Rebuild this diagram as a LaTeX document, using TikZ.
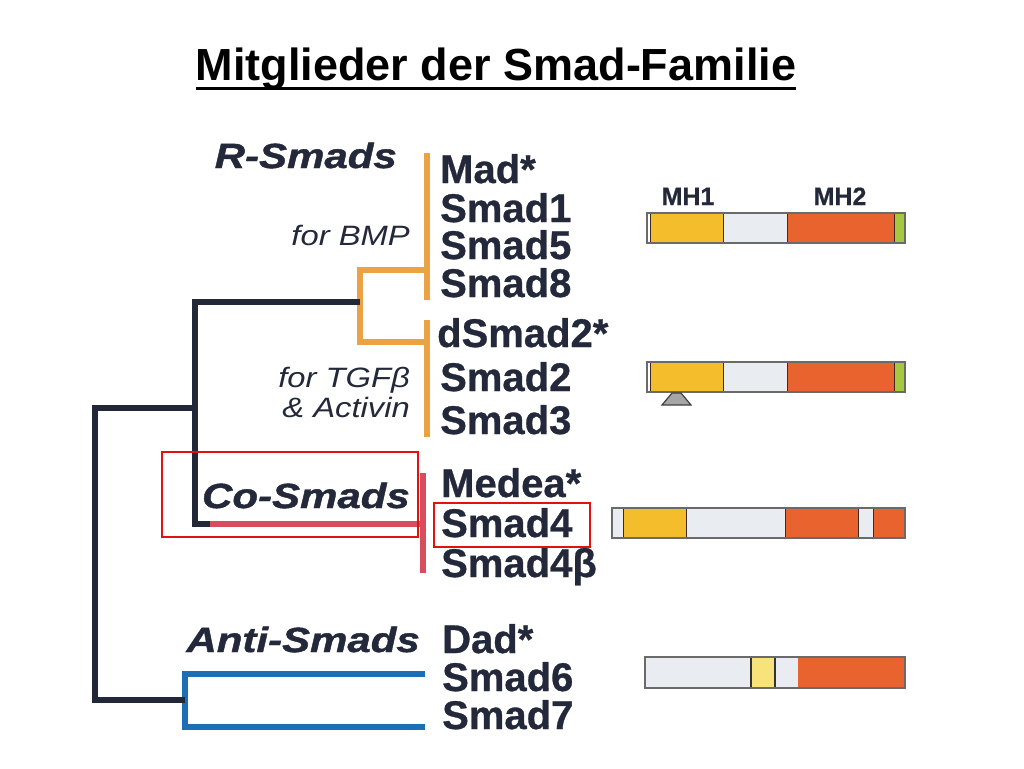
\documentclass[tikz,border=0pt]{standalone}
\usepackage{fontspec}
\setmainfont{Liberation Sans}
\newfontfamily\grpfont[FakeStretch=1.2, FakeBold=1.2]{Liberation Sans Bold Italic}
\newfontfamily\subfont[FakeStretch=1.17]{Liberation Sans Italic}
\newfontfamily\genefont[FakeBold=0.7]{Liberation Sans Bold}
\definecolor{navyc}{HTML}{222838}
\definecolor{txt}{HTML}{23283A}
\definecolor{orangeline}{HTML}{EBA244}
\definecolor{redline}{HTML}{D64D5E}
\definecolor{blueline}{HTML}{1D6FB5}
\definecolor{annot}{HTML}{E31010}
\definecolor{dyellow}{HTML}{F4BD2C}
\definecolor{dpale}{HTML}{F8E27A}
\definecolor{dgray}{HTML}{E9ECF1}
\definecolor{dorange}{HTML}{E8632E}
\definecolor{dgreen}{HTML}{A6C83C}
\definecolor{ddiv}{HTML}{3E2A20}
\definecolor{dborder}{HTML}{6A6A6A}
\begin{document}
\begin{tikzpicture}[x=1pt,y=-1pt,
  tree/.style={line width=6pt, line join=miter, line cap=butt},
  navytree/.style={tree, draw=navyc},
  orangetree/.style={tree, draw=orangeline},
  redtree/.style={tree, draw=redline},
  bluetree/.style={tree, draw=blueline},
  gene/.style={anchor=base west, inner sep=0pt, text=txt, font=\genefont\fontsize{40}{40}\selectfont},
  grp/.style={anchor=base east, inner sep=0pt, text=txt, font=\grpfont\fontsize{35}{35}\selectfont},
  sub/.style={anchor=base east, inner sep=0pt, text=txt, font=\subfont\fontsize{28}{28}\selectfont},
  dom/.style={anchor=base, inner sep=0pt, text=txt, font=\genefont\fontsize{25}{25}\selectfont},
  seg/.style={draw=ddiv, line width=1pt},
  barframe/.style={draw=dborder, line width=1.5pt},
  annotbox/.style={draw=annot, line width=2.5pt}
]
\useasboundingbox (0,0) rectangle (1024,768);

% title
\node[anchor=base, inner sep=0pt, font=\fontsize{45}{45}\selectfont\bfseries] (title) at (496,80) {Mitglieder der Smad-Familie};
\draw[line width=3pt] ([yshift=-8pt]title.base west) -- ([yshift=-8pt]title.base east);

% group labels
\node[grp] (rs) at (397,168) {R-Smads};
\node[sub] (bmp) at (410,245) {for BMP};
\node[sub] (tgf) at (410,387) {for TGFβ};
\node[sub] (act) at (410,417) {\& Activin};
\node[grp] (cs) at (410,508) {Co-Smads};
\node[grp] (as) at (420,652) {Anti-Smads};

% gene names
\node[gene] (g1) at (440,183) {Mad*};
\node[gene] (g2) at (440,222) {Smad1};
\node[gene] (g3) at (440,259) {Smad5};
\node[gene] (g4) at (440,297) {Smad8};
\node[gene] (g5) at (437,347) {dSmad2*};
\node[gene] (g6) at (440,391) {Smad2};
\node[gene] (g7) at (440,434) {Smad3};
\node[gene] (g8) at (441,497) {Medea*};
\node[gene] (g9) at (441,537) {Smad4};
\node[gene] (g10) at (441,577) {Smad4β};
\node[gene] (g11) at (442,653) {Dad*};
\node[gene] (g12) at (442,691) {Smad6};
\node[gene] (g13) at (442,729) {Smad7};

% tree coordinates
\coordinate (oTop) at (95,408);
\coordinate (oBot) at (95,700);
\coordinate (iJoin) at (195,408);
\coordinate (bJoin) at (185,700);
\coordinate (iTop) at (195,302);
\coordinate (iBot) at (195,524);
\coordinate (oJoin) at (360,302);
\coordinate (rStart) at (210,524);
\coordinate (rEnd) at (423,524);
\coordinate (oa) at (360,270);
\coordinate (ob) at (360,342);
\coordinate (oa2) at (427,270);
\coordinate (ob2) at (427,342);
\coordinate (bmpT) at (427,153);
\coordinate (bmpB) at (427,300);
\coordinate (tgfT) at (427,320);
\coordinate (tgfB) at (427,437);
\coordinate (coT) at (423,473);
\coordinate (coB) at (423,573);
\coordinate (b6L) at (185,674);
\coordinate (b7L) at (185,727);
\coordinate (b6R) at (425,674);
\coordinate (b7R) at (425,727);

% orange (R-Smads)
\draw[orangetree] (bmpT) -- (bmpB);
\draw[orangetree] (tgfT) -- (tgfB);
\draw[orangetree] (oa2) -- (oa) -- (ob) -- (ob2);
% red (Co-Smads)
\draw[redtree] (coT) -- (coB);
\draw[redtree] (rStart) -- (rEnd);
% blue (Anti-Smads)
\draw[bluetree] (b6R) -- (b6L) -- (b7L) -- (b7R);
% navy backbone
\draw[navytree] (oJoin) -- (iTop) -- (iBot) -- (rStart);
\draw[navytree] (iJoin) -- (oTop) -- (oBot) -- (bJoin);

% domain labels
\node[dom] (mh1) at (688,205) {MH1};
\node[dom] (mh2) at (840,205) {MH2};

% bar 1
\fill[dyellow] (650,213) rectangle (723,243);
\fill[dgray] (723,213) rectangle (787,243);
\fill[dorange] (787,213) rectangle (894,243);
\fill[dgreen] (894,213) rectangle (905,243);
\draw[seg] (650,213) -- (650,243) (723,213) -- (723,243) (787,213) -- (787,243) (894,213) -- (894,243);
\draw[barframe] (647,213) rectangle (905,243);
% bar 2
\fill[dyellow] (650,362) rectangle (723,392);
\fill[dgray] (723,362) rectangle (787,392);
\fill[dorange] (787,362) rectangle (894,392);
\fill[dgreen] (894,362) rectangle (905,392);
\draw[seg] (650,362) -- (650,392) (723,362) -- (723,392) (787,362) -- (787,392) (894,362) -- (894,392);
\draw[barframe] (647,362) rectangle (905,392);
\filldraw[fill=gray!70, draw=black!75, line width=1.2pt] (672,393) -- (681,393) -- (691,405) -- (662,405) -- cycle;
% bar 3
\fill[dgray] (612,508) rectangle (623,538);
\fill[dyellow] (623,508) rectangle (686,538);
\fill[dgray] (686,508) rectangle (785,538);
\fill[dorange] (785,508) rectangle (858,538);
\fill[dgray] (858,508) rectangle (873,538);
\fill[dorange] (873,508) rectangle (905,538);
\draw[seg] (623,508) -- (623,538) (686,508) -- (686,538) (785,508) -- (785,538) (858,508) -- (858,538) (873,508) -- (873,538);
\draw[barframe] (612,508) rectangle (905,538);
% bar 4
\fill[dgray] (645,657) rectangle (905,688);
\fill[dorange] (798,657) rectangle (905,688);
\filldraw[fill=dpale, draw=black!80, line width=2pt] (751,657) rectangle (775,688);
\draw[barframe] (645,657) rectangle (905,688);

% annotation boxes
\draw[annotbox] (162,452) rectangle (418,537);
\draw[annotbox] (434,503) rectangle (590,547);
\end{tikzpicture}
\end{document}
